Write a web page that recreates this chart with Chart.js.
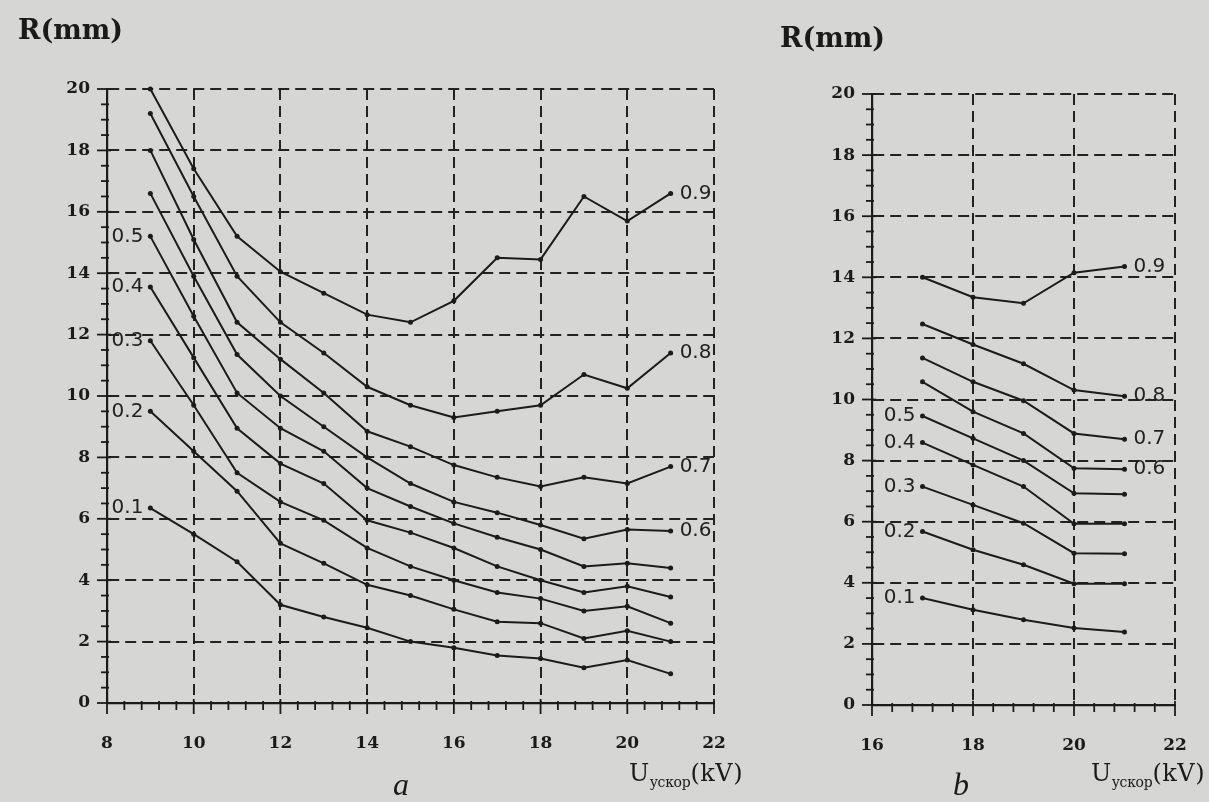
<!DOCTYPE html>
<html>
<head>
<meta charset="utf-8">
<script src="https://cdn.jsdelivr.net/npm/chart.js@4.4.1/dist/chart.umd.min.js"></script>
<style>
html,body{margin:0;padding:0;background:#d6d6d4;}
body{width:1209px;height:802px;position:relative;overflow:hidden;color:#1a1a1a;font-family:"DejaVu Serif",serif;}
canvas{position:absolute;top:0;}
.t{position:absolute;white-space:nowrap;}
.rt{font-weight:bold;font-size:27px;line-height:32px;}
.ut{font-size:24px;line-height:30px;letter-spacing:0.5px;}
.ut .s{font-size:14px;position:relative;top:6px;letter-spacing:-0.3px;}
.pl{font-family:"Liberation Serif",serif;font-style:italic;font-size:32px;line-height:32px;}
</style>
</head>
<body>
<canvas id="ca" width="745" height="802" style="left:0px"></canvas>
<canvas id="cb" width="464" height="802" style="left:745px"></canvas>

<div class="t rt" style="left:18px;top:14px">R(mm)</div>
<div class="t rt" style="left:780px;top:22px">R(mm)</div>
<div class="t ut" style="right:466px;top:758px">U<span class="s">ускор</span>(kV)</div>
<div class="t ut" style="right:4px;top:758px">U<span class="s">ускор</span>(kV)</div>
<div class="t pl" style="left:393px;top:768px">a</div>
<div class="t pl" style="left:953px;top:768px">b</div>

<script>
// ---- Data: panel a ----
const voltsA = [9, 10, 11, 12, 13, 14, 15, 16, 17, 18, 19, 20, 21];
const a01 = [6.35, 5.5, 4.6, 3.2, 2.8, 2.45, 2.0, 1.8, 1.55, 1.45, 1.15, 1.4, 0.95];
const a02 = [9.5, 8.2, 6.9, 5.2, 4.55, 3.85, 3.5, 3.05, 2.65, 2.6, 2.1, 2.35, 2.0];
const a03 = [11.8, 9.7, 7.5, 6.55, 5.95, 5.05, 4.45, 4.0, 3.6, 3.4, 3.0, 3.15, 2.6];
const a04 = [13.55, 11.25, 8.95, 7.8, 7.15, 5.95, 5.55, 5.05, 4.45, 4.0, 3.6, 3.8, 3.45];
const a05 = [15.2, 12.6, 10.1, 8.95, 8.2, 7.0, 6.4, 5.85, 5.4, 5.0, 4.45, 4.55, 4.4];
const a06 = [16.6, 13.9, 11.35, 10.0, 9.0, 8.0, 7.15, 6.55, 6.2, 5.8, 5.35, 5.65, 5.6];
const a07 = [18.0, 15.1, 12.4, 11.2, 10.1, 8.85, 8.35, 7.75, 7.35, 7.05, 7.35, 7.15, 7.7];
const a08 = [19.2, 16.5, 13.9, 12.4, 11.4, 10.3, 9.7, 9.3, 9.5, 9.7, 10.7, 10.25, 11.4];
const a09 = [20.0, 17.4, 15.2, 14.05, 13.35, 12.65, 12.4, 13.1, 14.5, 14.45, 16.5, 15.7, 16.6];

// ---- Data: panel b ----
const voltsB = [17, 18, 19, 20, 21];
const b01 = [3.5, 3.12, 2.79, 2.52, 2.39];
const b02 = [5.68, 5.08, 4.59, 3.97, 3.97];
const b03 = [7.15, 6.55, 5.95, 4.97, 4.95];
const b04 = [8.59, 7.86, 7.15, 5.93, 5.93];
const b05 = [9.46, 8.73, 8.0, 6.93, 6.9];
const b06 = [10.58, 9.6, 8.89, 7.75, 7.72];
const b07 = [11.36, 10.58, 9.96, 8.89, 8.7];
const b08 = [12.47, 11.8, 11.17, 10.31, 10.11];
const b09 = [14.0, 13.35, 13.15, 14.15, 14.35];

const seriesNames = ['0.1', '0.2', '0.3', '0.4', '0.5', '0.6', '0.7', '0.8', '0.9'];
const leftLabelled = ['0.1', '0.2', '0.3', '0.4', '0.5'];

// ---- Tick labels ----
const xTicksA = [8, 10, 12, 14, 16, 18, 20, 22];
const xTicksB = [16, 18, 20, 22];
const yTicks = [0, 2, 4, 6, 8, 10, 12, 14, 16, 18, 20];

const INK = '#1b1b1b';
const GRID = '#222222';
const TICKFONT = {family: '"DejaVu Serif", serif', size: 17, weight: 'bold'};

const decor = {
  id: 'decor',
  afterDraw(chart) {
    const {ctx, chartArea: ca} = chart;
    const xs = chart.scales.x, ys = chart.scales.y;
    ctx.save();
    ctx.setLineDash([]);
    ctx.strokeStyle = INK;
    ctx.lineWidth = 1.8;
    const ny = Math.round((ys.max - ys.min) / 0.5);
    for (let i = 0; i <= ny; i++) {
      const p = ys.getPixelForValue(ys.min + i * 0.5);
      const major = i % 4 === 0;
      ctx.beginPath();
      ctx.moveTo(ca.left - (major ? 10 : 6), p);
      ctx.lineTo(ca.left + (major ? 4 : 2), p);
      ctx.stroke();
    }
    const nx = Math.round((xs.max - xs.min) / 0.4);
    for (let i = 0; i <= nx; i++) {
      const p = xs.getPixelForValue(xs.min + i * 0.4);
      const major = i % 5 === 0;
      ctx.beginPath();
      ctx.moveTo(p, ca.bottom - (major ? 4 : 2));
      ctx.lineTo(p, ca.bottom + (major ? 11 : 7));
      ctx.stroke();
    }
    ctx.font = '20px "DejaVu Sans", sans-serif';
    ctx.fillStyle = '#222222';
    ctx.textBaseline = 'middle';
    chart.data.datasets.forEach((ds, i) => {
      const pts = chart.getDatasetMeta(i).data;
      if (ds.sideLabel === 'left') {
        const p = pts[0];
        ctx.textAlign = 'right';
        ctx.fillText(ds.label, p.x - 7, p.y);
      } else {
        const p = pts[pts.length - 1];
        ctx.textAlign = 'left';
        ctx.fillText(ds.label, p.x + 9, p.y);
      }
    });
    ctx.restore();
  }
};

function makeChart(id, volts, rows, xMin, xMax, xTicks, pad) {
  return new Chart(document.getElementById(id), {
    type: 'line',
    data: {
      datasets: rows.map((vals, k) => ({
        label: seriesNames[k],
        data: volts.map((v, i) => ({x: v, y: vals[i]})),
        sideLabel: leftLabelled.includes(seriesNames[k]) ? 'left' : 'right',
        borderColor: INK,
        borderWidth: 2,
        pointRadius: 2.5,
        pointBackgroundColor: INK,
        pointBorderWidth: 0,
        tension: 0,
        clip: false
      }))
    },
    options: {
      responsive: false,
      animation: false,
      devicePixelRatio: 1,
      layout: {padding: pad},
      plugins: {legend: {display: false}, tooltip: {enabled: false}},
      scales: {
        x: {
          type: 'linear', min: xMin, max: xMax,
          afterBuildTicks: s => { s.ticks = xTicks.map(v => ({value: v})); },
          afterFit: s => { s.height = 50; },
          grid: {color: GRID, lineWidth: 2, drawTicks: true, tickLength: 30, tickColor: 'rgba(0,0,0,0)'},
          border: {display: true, color: INK, width: 2.2, dash: [11, 6]},
          ticks: {padding: 0, font: TICKFONT, color: INK, autoSkip: false, maxRotation: 0, callback: v => String(v)}
        },
        y: {
          type: 'linear', min: 0, max: 20,
          afterBuildTicks: s => { s.ticks = yTicks.map(v => ({value: v})); },
          afterFit: s => { s.width = 60; },
          grid: {color: GRID, lineWidth: 2, drawTicks: true, tickLength: 17, tickColor: 'rgba(0,0,0,0)'},
          border: {display: true, color: INK, width: 2.2, dash: [11, 6]},
          ticks: {padding: 0, font: TICKFONT, color: INK, autoSkip: false, callback: v => String(v)}
        }
      }
    },
    plugins: [decor]
  });
}

makeChart('ca', voltsA, [a01, a02, a03, a04, a05, a06, a07, a08, a09], 8, 22, xTicksA,
  {left: 47, right: 31, top: 89, bottom: 49});
makeChart('cb', voltsB, [b01, b02, b03, b04, b05, b06, b07, b08, b09], 16, 22, xTicksB,
  {left: 67, right: 34, top: 94, bottom: 47});
</script>
</body>
</html>
